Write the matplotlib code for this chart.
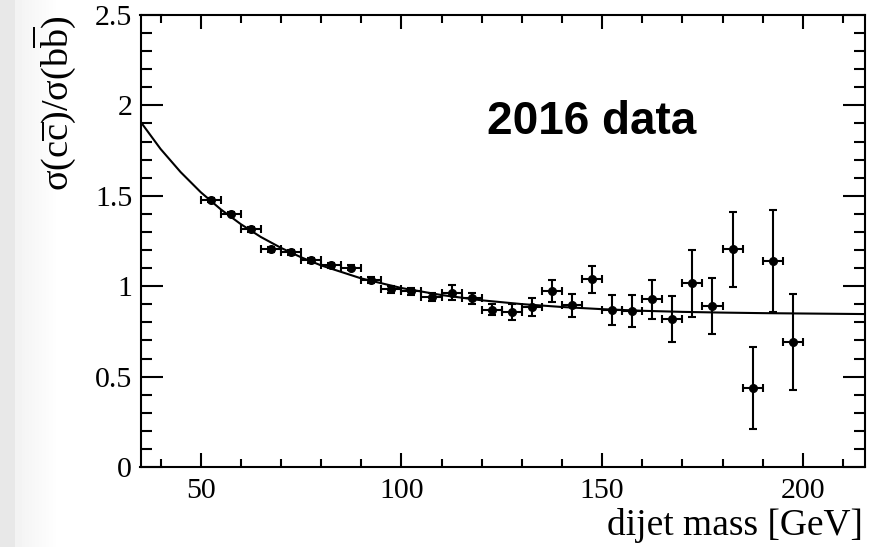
"""Ratio of charm to bottom dijet cross sections vs dijet mass (2016 data)."""

import matplotlib

matplotlib.use("Agg")
import matplotlib.pyplot as plt
import numpy as np
from matplotlib.ticker import MultipleLocator

# Measured points (bin centres, 5 GeV bins)
mass = [52.5, 57.5, 62.5, 67.5, 72.5, 77.5, 82.5, 87.5, 92.5, 97.5,
        102.5, 107.5, 112.5, 117.5, 122.5, 127.5, 132.5, 137.5, 142.5, 147.5,
        152.5, 157.5, 162.5, 167.5, 172.5, 177.5, 182.5, 187.5, 192.5, 197.5]
ratio = [1.476, 1.402, 1.314, 1.203, 1.188, 1.144, 1.116, 1.103, 1.033, 0.983,
         0.972, 0.941, 0.965, 0.932, 0.871, 0.856, 0.885, 0.972, 0.895, 1.039,
         0.867, 0.862, 0.928, 0.817, 1.015, 0.888, 1.203, 0.437, 1.138, 0.690]
ratio_err = [0.010, 0.010, 0.012, 0.012, 0.013, 0.014, 0.015, 0.016, 0.017, 0.018,
             0.020, 0.022, 0.041, 0.030, 0.028, 0.043, 0.050, 0.060, 0.063, 0.075,
             0.082, 0.089, 0.108, 0.127, 0.187, 0.155, 0.209, 0.225, 0.283, 0.266]
bin_half_width = [2.5] * len(mass)

# Fitted curve
fit_mass = [35, 40, 45, 50, 55, 60, 65, 70, 75, 80, 90, 100, 110, 120,
            130, 140, 150, 160, 170, 180, 190, 200, 215]
fit_ratio = [1.910, 1.759, 1.631, 1.520, 1.425, 1.343, 1.272, 1.212, 1.160,
             1.115, 1.043, 0.990, 0.951, 0.922, 0.901, 0.885, 0.873, 0.864,
             0.858, 0.854, 0.851, 0.849, 0.846]

W, H = 884, 547
plt.rcParams["font.family"] = ["Liberation Serif", "DejaVu Serif"]
plt.rcParams["mathtext.fontset"] = "custom"
plt.rcParams["mathtext.rm"] = "Liberation Serif"
plt.rcParams["mathtext.it"] = "Liberation Serif:italic"

fig = plt.figure(figsize=(W / 100, H / 100), dpi=100)

# faint grey strip on the left edge
bg = fig.add_axes([0, 0, 60 / W, 1], zorder=-5)
grad = np.concatenate([np.full(15, 0.91), np.linspace(0.95, 1.0, 45)])
bg.imshow(np.tile(grad, (10, 1)), cmap="gray", vmin=0, vmax=1,
          aspect="auto", extent=[0, 1, 0, 1])
bg.axis("off")

left, right, top, bottom = 140.5, 865, 15, 467
ax = fig.add_axes([left / W, 1 - bottom / H, (right - left) / W, (bottom - top) / H])

ax.plot(fit_mass, fit_ratio, color="black", lw=1.5, zorder=2)
ax.errorbar(mass, ratio, xerr=bin_half_width, yerr=ratio_err, fmt="o",
            color="black", ms=5.5, elinewidth=1.5, capsize=3, capthick=1.5, zorder=3)

ax.set_xlim(35, 215.5)
ax.set_ylim(0, 2.5)
ax.xaxis.set_major_locator(MultipleLocator(50))
ax.xaxis.set_minor_locator(MultipleLocator(10))
ax.yaxis.set_major_locator(MultipleLocator(0.5))
ax.yaxis.set_minor_locator(MultipleLocator(0.1))
ax.yaxis.set_major_formatter(lambda v, pos: f"{v:g}")

for s in ax.spines.values():
    s.set_linewidth(1.5)
ax.tick_params(which="both", direction="in", top=True, right=True, width=1.5,
               labelsize=21.5)
ax.tick_params(axis="x", which="major", length=10, pad=8)
ax.tick_params(axis="x", which="minor", length=5.5)
ax.tick_params(axis="y", which="major", length=15.6, pad=6)
ax.tick_params(axis="y", which="minor", length=8)

fig.text(863 / W, 1 - 508 / H, "dijet mass [GeV]", fontsize=27,
         ha="right", va="top")
fig.text(54 / W, 1 - 16 / H,
         r"$\mathrm{\sigma(c\overline{c})/\sigma(b\overline{b})}$",
         fontsize=27.5, rotation=90, ha="center", va="top")
fig.text(487 / W, 1 - 100 / H, "2016 data", fontsize=33, fontweight="bold",
         family=["Liberation Sans", "DejaVu Sans"], ha="left", va="top")

fig.savefig("out.png", dpi=100)
